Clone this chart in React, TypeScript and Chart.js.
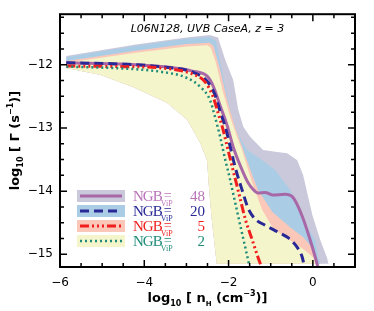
import React, { useEffect, useRef } from "react";
import { Chart, registerables } from "chart.js";
Chart.register(...registerables);

type P = { x: number; y: number };
const pts = (a: number[][]): P[] => a.map(([x, y]) => ({ x, y }));

// axis ticks
const xTicks = [-6, -4, -2, 0];
const yTicks = [-15, -14, -13, -12];
const xRange = [-6, 1];
const yRange = [-15.2, -11.2];

// NGB_ViP values
const ngbValues = ["48", "20", "5", "2"];

// median curves
const median48 = pts([
  [-5.85, -11.97], [-4.4, -11.99], [-3.4, -12.04], [-2.86, -12.1], [-2.51, -12.18],
  [-2.37, -12.33], [-2.2, -12.65], [-2.03, -12.97], [-1.89, -13.3], [-1.72, -13.6],
  [-1.55, -13.85], [-1.42, -13.97], [-1.3, -14.03], [-1.13, -14.02], [-0.96, -14.06],
  [-0.66, -14.05], [-0.47, -14.1], [-0.25, -14.4], [-0.06, -14.78], [0.06, -15.05], [0.12, -15.2],
]);
const median20 = pts([
  [-5.85, -11.97], [-4.5, -11.99], [-3.62, -12.03], [-2.84, -12.12], [-2.51, -12.26],
  [-2.32, -12.48], [-2.2, -12.74], [-2.08, -12.98], [-1.96, -13.3], [-1.84, -13.63],
  [-1.68, -13.98], [-1.53, -14.28], [-1.37, -14.44], [-1.13, -14.54], [-0.82, -14.65],
  [-0.58, -14.74], [-0.37, -14.89], [-0.25, -15.05], [-0.2, -15.2],
]);
const median5 = pts([
  [-5.85, -12.02], [-4.5, -12.03], [-3.62, -12.05], [-2.84, -12.15], [-2.56, -12.27],
  [-2.37, -12.5], [-2.25, -12.76], [-2.13, -13.03], [-2.02, -13.33], [-1.9, -13.65],
  [-1.75, -14.05], [-1.6, -14.45], [-1.45, -14.75], [-1.3, -15.05], [-1.22, -15.2],
]);
const median2 = pts([
  [-5.85, -12.03], [-4.5, -12.06], [-3.62, -12.11], [-2.98, -12.21], [-2.67, -12.35],
  [-2.44, -12.56], [-2.32, -12.83], [-2.2, -13.14], [-2.08, -13.5], [-1.97, -13.8],
  [-1.87, -14.1], [-1.72, -14.55], [-1.6, -14.9], [-1.5, -15.2],
]);

// upper / right edges of the scatter bands
const band48Upper = pts([
  [-5.85, -11.86], [-4.2, -11.68], [-3.0, -11.57], [-2.45, -11.53], [-2.25, -11.57],
  [-2.08, -11.92], [-1.89, -12.24], [-1.77, -12.71], [-1.65, -12.98], [-1.49, -13.14],
  [-1.18, -13.35], [-0.85, -13.38], [-0.61, -13.4], [-0.37, -13.51], [-0.23, -13.75],
  [-0.01, -14.38], [0.18, -14.78], [0.34, -15.06], [0.37, -15.15],
]);
const band20Upper = pts([
  [-5.85, -11.88], [-4.2, -11.7], [-3.0, -11.59], [-2.45, -11.56], [-2.3, -11.62],
  [-2.13, -12.19], [-1.96, -12.71], [-1.8, -13.08], [-1.56, -13.35], [-1.2, -13.51],
  [-0.89, -13.67], [-0.54, -13.98], [-0.23, -14.46], [0.06, -14.78], [0.13, -15.05], [0.18, -15.15],
]);
const band5Upper = pts([
  [-5.85, -11.94], [-4.2, -11.78], [-3.0, -11.67], [-2.45, -11.65], [-2.36, -11.7],
  [-2.2, -12.08], [-2.03, -12.56], [-1.84, -13.0], [-1.65, -13.35], [-1.42, -13.78],
  [-1.3, -13.98], [-0.96, -14.33], [-0.54, -14.57], [-0.23, -14.73], [-0.01, -14.9],
  [0.08, -15.05], [0.13, -15.15],
]);
const band2Upper = pts([
  [-5.85, -11.97], [-4.2, -11.81], [-3.0, -11.71], [-2.5, -11.69], [-2.42, -11.73],
  [-2.3, -11.97], [-2.13, -12.44], [-1.96, -12.83], [-1.8, -13.14], [-1.68, -13.35],
  [-1.44, -13.87], [-1.2, -14.3], [-0.96, -14.57], [-0.66, -14.73], [-0.42, -14.83],
  [-0.18, -14.94], [0.01, -15.05], [0.06, -15.15],
]);
// common lower edge (from bottom back up to the left)
const bandLower = pts([
  [-2.28, -15.15], [-2.39, -14.5], [-2.46, -13.98], [-2.51, -13.51], [-2.6, -13.36],
  [-2.67, -13.24], [-2.98, -12.87], [-3.46, -12.6], [-4.27, -12.35], [-5.05, -12.16], [-5.85, -12.05],
]);

const bandColors = ["rgb(201,201,219)", "rgb(170,205,229)", "rgb(250,199,185)", "rgb(245,245,203)"];
const lineColors = ["rgb(168,104,168)", "rgb(40,40,150)", "rgb(240,30,30)", "rgb(30,140,120)"];
const lineDashes: number[][] = [[], [9, 5], [9, 3, 2, 3, 2, 3, 2, 3], [2, 3]];
const lineWidths = [3, 3, 3, 2.5];

function richText(
  ctx: CanvasRenderingContext2D,
  segs: { t: string; size: number; dy: number }[],
  x: number,
  y: number,
  family: string,
  weight: string
) {
  let w = 0;
  for (const s of segs) {
    ctx.font = `${weight} ${s.size}px ${family}`;
    w += ctx.measureText(s.t).width;
  }
  let cx = x - w / 2;
  ctx.textAlign = "left";
  ctx.textBaseline = "alphabetic";
  for (const s of segs) {
    ctx.font = `${weight} ${s.size}px ${family}`;
    ctx.fillText(s.t, cx, y + s.dy);
    cx += ctx.measureText(s.t).width;
  }
}

const decor = {
  id: "decor",
  afterDatasetsDraw(chart: any) {
    const ctx: CanvasRenderingContext2D = chart.ctx;
    const { left, right, top, bottom } = chart.chartArea;
    const xs = chart.scales.x;
    const ys = chart.scales.y;
    ctx.save();
    ctx.strokeStyle = "#000";
    ctx.fillStyle = "#000";
    // ticks (inward, all sides)
    ctx.lineWidth = 1.5;
    ctx.beginPath();
    for (let v = xRange[0]; v <= xRange[1] + 1e-9; v += 0.5) {
      const px = xs.getPixelForValue(v);
      const len = Math.abs(v % 2) < 1e-9 ? 7 : 4;
      ctx.moveTo(px, bottom); ctx.lineTo(px, bottom - len);
      ctx.moveTo(px, top); ctx.lineTo(px, top + len);
    }
    for (let v = -15; v <= yRange[1] + 1e-9; v += 0.25) {
      const py = ys.getPixelForValue(v);
      const len = Math.abs(v - Math.round(v)) < 1e-9 ? 7 : 4;
      ctx.moveTo(left, py); ctx.lineTo(left + len, py);
      ctx.moveTo(right, py); ctx.lineTo(right - len, py);
    }
    ctx.stroke();
    // frame
    ctx.lineWidth = 2;
    ctx.strokeRect(left, top, right - left, bottom - top);

    // title
    ctx.font = "italic 11px 'DejaVu Sans'";
    ctx.textAlign = "center";
    ctx.textBaseline = "alphabetic";
    ctx.fillText("L06N128, UVB CaseA, z = 3", (left + right) / 2, 32);

    // x title
    const fam = "'DejaVu Sans'";
    richText(ctx, [
      { t: "log", size: 13, dy: 0 },
      { t: "10", size: 8, dy: 4 },
      { t: " [ n", size: 13, dy: 0 },
      { t: "H", size: 7, dy: 4 },
      { t: " (cm", size: 13, dy: 0 },
      { t: "\u22123", size: 8, dy: -6 },
      { t: ")]", size: 13, dy: 0 },
    ], (left + right) / 2, 302, fam, "bold");

    // y title
    ctx.save();
    ctx.translate(19, (top + bottom) / 2);
    ctx.rotate(-Math.PI / 2);
    richText(ctx, [
      { t: "log", size: 13, dy: 0 },
      { t: "10", size: 8, dy: 4 },
      { t: " [ \u0393 (s", size: 13, dy: 0 },
      { t: "\u22121", size: 8, dy: -6 },
      { t: ")]", size: 13, dy: 0 },
    ], 0, 0, fam, "bold");
    ctx.restore();

    // legend
    for (let i = 0; i < ngbValues.length; i++) {
      const cy = 196 + i * 15;
      ctx.fillStyle = bandColors[i];
      ctx.fillRect(77, cy - 6, 48, 12);
      ctx.strokeStyle = lineColors[i];
      ctx.lineWidth = lineWidths[i];
      ctx.setLineDash(lineDashes[i]);
      ctx.beginPath();
      ctx.moveTo(80, cy);
      ctx.lineTo(122, cy);
      ctx.stroke();
      ctx.setLineDash([]);
      ctx.fillStyle = i === 0 ? "rgb(185,115,185)" : lineColors[i];
      ctx.textAlign = "left";
      (ctx as any).letterSpacing = "-1px";
      ctx.font = "15px 'Liberation Serif'";
      ctx.fillText("NGB", 133, cy + 5);
      const w = ctx.measureText("NGB").width;
      (ctx as any).letterSpacing = "0px";
      ctx.font = "8px 'Liberation Serif'";
      ctx.fillText("ViP", 133 + w - 1, cy + 10);
      ctx.font = "14px 'Liberation Serif'";
      ctx.fillText("=", 133 + w + 2, cy + 4);
      ctx.font = "15px 'Liberation Serif'";
      ctx.textAlign = "right";
      ctx.fillText(ngbValues[i], 205, cy + 5);
    }
    ctx.restore();
  },
};

export default function App() {
  const ref = useRef<HTMLCanvasElement>(null);
  useEffect(() => {
    document.body.style.margin = "0";
    const bands = [band48Upper, band20Upper, band5Upper, band2Upper];
    const medians = [median48, median20, median5, median2];
    const datasets: any[] = [];
    bands.forEach((b, i) => {
      datasets.push({
        label: `band${ngbValues[i]}`,
        data: [...b, ...bandLower],
        showLine: true,
        fill: "shape",
        backgroundColor: bandColors[i],
        borderWidth: 0,
        borderColor: "rgba(0,0,0,0)",
        pointRadius: 0,
        tension: 0,
        order: 10 - i,
      });
    });
    medians.forEach((m, i) => {
      datasets.push({
        label: `NGB ${ngbValues[i]}`,
        data: m,
        showLine: true,
        fill: false,
        borderColor: lineColors[i],
        borderWidth: lineWidths[i],
        borderDash: lineDashes[i],
        pointRadius: 0,
        cubicInterpolationMode: "monotone",
        order: 4 - i,
      });
    });
    const tickFont = { family: "'DejaVu Sans'", size: 12 };
    const fmt = (v: any) => {
      const n = Number(v);
      return n < 0 ? `\u2212${Math.abs(n)}` : `${n}`;
    };
    const chart = new Chart(ref.current!, {
      type: "scatter",
      data: { datasets },
      options: {
        animation: false,
        responsive: false,
        events: [],
        layout: { padding: { top: 14, right: 19, left: 0, bottom: 0 } },
        plugins: { legend: { display: false }, tooltip: { enabled: false } },
        scales: {
          x: {
            type: "linear",
            min: xRange[0],
            max: xRange[1],
            afterBuildTicks: (s: any) => { s.ticks = xTicks.map((v) => ({ value: v })); },
            afterFit: (s: any) => { s.height = 44; },
            ticks: { callback: fmt, font: tickFont, color: "#000", padding: 9, maxRotation: 0 },
            grid: { display: false, drawTicks: false },
            border: { display: false },
          },
          y: {
            type: "linear",
            min: yRange[0],
            max: yRange[1],
            afterBuildTicks: (s: any) => { s.ticks = yTicks.map((v) => ({ value: v })); },
            afterFit: (s: any) => { s.width = 60; },
            ticks: { callback: fmt, font: tickFont, color: "#000", padding: 7 },
            grid: { display: false, drawTicks: false },
            border: { display: false },
          },
        },
      } as any,
      plugins: [decor],
    });
    return () => chart.destroy();
  }, []);
  return (
    <div style={{ width: 374, height: 311 }}>
      <canvas ref={ref} width={374} height={311} />
    </div>
  );
}
